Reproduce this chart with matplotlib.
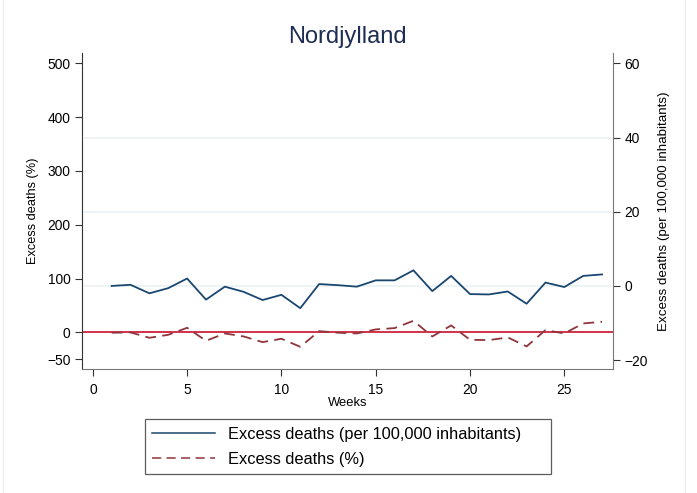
import matplotlib
matplotlib.use("Agg")
import matplotlib.pyplot as plt
from matplotlib.patches import Rectangle

plt.rcParams['font.family'] = ['Liberation Sans', 'DejaVu Sans']

# data
weeks = list(range(1, 28))
per100k = [0.0, 0.3, -2.0, -0.6, 2.0, -3.7, -0.2, -1.6, -3.8, -2.4, -6.0, 0.5, 0.2, -0.2,
           1.5, 1.5, 4.2, -1.4, 2.7, -2.2, -2.3, -1.5, -4.8, 0.9, -0.3, 2.7, 3.1]
pct = [-0.6, 0.0, -10.0, -4.4, 8.6, -15.6, -1.9, -7.5, -18.0, -11.8, -26.7, 2.4, -0.6, -1.9,
       5.6, 8.0, 21.6, -7.5, 13.0, -13.7, -14.3, -9.3, -26.0, 4.3, -1.9, 16.7, 19.7]
left_ticks = [-50, 0, 100, 200, 300, 400, 500]
right_ticks = [-20, 0, 20, 40, 60]
grid_vals = [0, 20, 40]
x_ticks = [0, 5, 10, 15, 20, 25]
labels = ['Excess deaths (per 100,000 inhabitants)', 'Excess deaths (%)']

blue = '#1a476f'
maroon = '#90353b'
red = '#c8102e'
title_col = '#1e2d53'

fig = plt.figure(figsize=(6.97, 4.93), dpi=100)
fig.patches.append(Rectangle((0.004, -0.01), 0.979, 1.02, transform=fig.transFigure,
                             fill=False, edgecolor='#eeeeee', lw=1))
ax = fig.add_axes([0.1172, 0.2515, 0.7628, 0.6415])
ax2 = ax.twinx()

# light grid from the right axis, kept off the left spine
for g in grid_vals:
    ax2.axhline(g, xmin=0.004, xmax=0.996, color='#eaf2f3', lw=1.2, zorder=0)

ax.axhline(0, color=red, lw=1.2, zorder=1)
l2, = ax.plot(weeks, pct, color=maroon, lw=1.3, dashes=(6, 3.5), zorder=2)
l1, = ax2.plot(weeks, per100k, color=blue, lw=1.3, zorder=3)

ax.set_xlim(-0.59, 27.6)
ax.set_ylim(-68, 519.7)
ax2.set_ylim(-22.4, 62.86)
ax.set_yticks(left_ticks)
ax2.set_yticks(right_ticks)
ax.set_xticks(x_ticks)

for a in (ax, ax2):
    a.spines['top'].set_visible(False)
    a.tick_params(labelsize=9.9, length=5, width=0.8, colors='#333333', labelcolor='black', pad=3)
ax.tick_params(axis='x', pad=5)
ax.spines['left'].set_color('#333333')
ax2.spines['left'].set_visible(False)
ax.spines['right'].set_visible(False)
ax2.spines['right'].set_color('#777777')
ax.spines['bottom'].set_color('#777777')
ax2.spines['bottom'].set_visible(False)

ax.set_xlabel('Weeks', fontsize=9.4, labelpad=0)
ax.set_ylabel('Excess deaths (%)', fontsize=9.2, labelpad=6)
ax2.set_ylabel('Excess deaths (per 100,000 inhabitants)', fontsize=9.6, labelpad=7)
fig.text(0.499, 0.925, 'Nordjylland', ha='center', va='center', fontsize=17, color=title_col)

# trailing spaces widen the box on the right like the original
leg = fig.legend([l1, l2], [labels[0] + '     ', labels[1]],
                 loc='center', bbox_to_anchor=(0.499, 0.094), fontsize=11.8, frameon=True,
                 fancybox=False, edgecolor='#333333', handlelength=3.8, handletextpad=0.8,
                 borderpad=0.45, labelspacing=0.6, borderaxespad=0)
leg.get_frame().set_linewidth(0.9)
for h in leg.get_lines():
    h.set_linewidth(1.1)

fig.savefig('out.png', dpi=100)
